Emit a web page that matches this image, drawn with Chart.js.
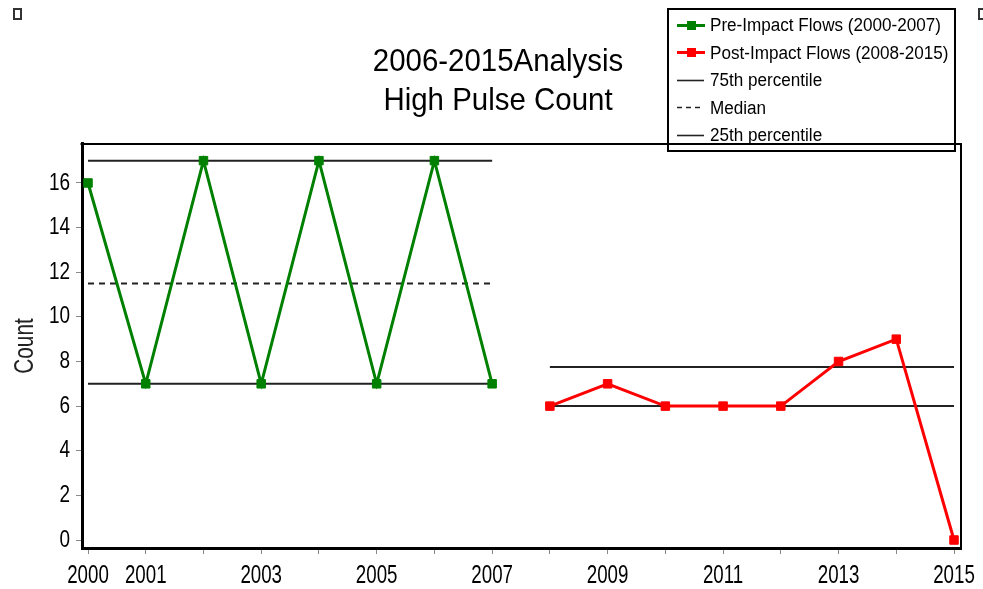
<!DOCTYPE html>
<html>
<head>
<meta charset="utf-8">
<script src="https://cdn.jsdelivr.net/npm/chart.js@4/dist/chart.umd.min.js"></script>
<style>
html,body{margin:0;padding:0;background:#fff;}
canvas{display:block;}
</style>
</head>
<body>
<canvas id="c" width="983" height="589" style="width:983px;height:589px"></canvas>
<script>
// ---- data ----
const titleLines = ['2006-2015Analysis', 'High Pulse Count'];
const yAxisTitle = 'Count';
const seriesLabels = ['Pre-Impact Flows (2000-2007)', 'Post-Impact Flows (2008-2015)'];
const percentileLabels = ['75th percentile', 'Median', '25th percentile'];
const preYears = [2000, 2001, 2002, 2003, 2004, 2005, 2006, 2007];
const preCounts = [16, 7, 17, 7, 17, 7, 17, 7];
const postYears = [2008, 2009, 2010, 2011, 2012, 2013, 2014, 2015];
const postCounts = [6, 7, 6, 6, 6, 8, 9, 0];
const prePercentiles = [17, 11.5, 7];      // 75th, median, 25th
const postPercentiles = [7.75, 6, 6];      // 75th, median, 25th
const xTickYears = [2000, 2001, 2002, 2003, 2004, 2005, 2006, 2007, 2008, 2009, 2010, 2011, 2012, 2013, 2014, 2015];
const xLabelYears = [2000, 2001, 2003, 2005, 2007, 2009, 2011, 2013, 2015];
const yTickValues = [0, 2, 4, 6, 8, 10, 12, 14, 16];

// ---- styling ----
const FONT = "'Liberation Sans', Arial, sans-serif";
const GREEN = '#008000';
const RED = '#ff0000';
const PCT_COLOR = '#222222';
const MEDIAN_DASH = [6, 5];
// horizontal condensing of text by font size (reference text is narrow)
const condense = {32: 0.92, 27: 0.77, 26: 0.72, 24: 0.79, 18: 0.95};

const canvas = document.getElementById('c');
const ctx = canvas.getContext('2d');
const origFill = CanvasRenderingContext2D.prototype.fillText;
ctx.fillText = function (t, x, y, mw) {
  const m = /(\d+(?:\.\d+)?)px/.exec(this.font);
  const s = m ? (condense[Math.round(+m[1])] || 1) : 1;
  if (s === 1) {
    return (mw === undefined) ? origFill.call(this, t, x, y) : origFill.call(this, t, x, y, mw);
  }
  this.save();
  this.translate(x, y);
  this.scale(s, 1);
  if (mw === undefined) origFill.call(this, t, 0, 0); else origFill.call(this, t, 0, 0, mw / s);
  this.restore();
};

function pts(xs, ys) { return xs.map((x, i) => ({x: x, y: ys[i]})); }
function flat(xs, v) { return [{x: xs[0], y: v}, {x: xs[xs.length - 1], y: v}]; }

const datasets = [];
datasets.push({
  label: seriesLabels[0], data: pts(preYears, preCounts),
  borderColor: GREEN, backgroundColor: GREEN, borderWidth: 3,
  pointStyle: 'rect', pointRadius: 6, pointBorderWidth: 1, pointHoverRadius: 6,
  order: 0, legendRank: 0, legendKind: 'series'
});
datasets.push({
  label: seriesLabels[1], data: pts(postYears, postCounts),
  borderColor: RED, backgroundColor: RED, borderWidth: 3,
  pointStyle: 'rect', pointRadius: 6, pointBorderWidth: 1, pointHoverRadius: 6,
  order: 0, legendRank: 1, legendKind: 'series'
});
[[preYears, prePercentiles, true], [postYears, postPercentiles, false]].forEach(([yrs, pc, inLegend]) => {
  pc.forEach((v, k) => {
    datasets.push({
      label: percentileLabels[k], data: flat(yrs, v),
      borderColor: PCT_COLOR, backgroundColor: PCT_COLOR, borderWidth: 2,
      borderDash: k === 1 ? MEDIAN_DASH : [], pointRadius: 0, pointHoverRadius: 0,
      order: 1, legendRank: inLegend ? 2 + k : -1, legendKind: k === 1 ? 'dash' : 'line'
    });
  });
});

const framePlugin = {
  id: 'frame',
  beforeDraw(chart) {
    const c = chart.ctx;
    c.save(); c.fillStyle = '#fff'; c.fillRect(0, 0, chart.width, chart.height); c.restore();
  },
  afterDraw(chart) {
    const c = chart.ctx;
    const a = chart.chartArea;
    c.save();
    // legend
    const items = chart.data.datasets.filter(d => d.legendRank >= 0).sort((p, q) => p.legendRank - q.legendRank);
    c.font = '18px ' + FONT;
    c.textAlign = 'left';
    c.textBaseline = 'alphabetic';
    items.forEach((d, i) => {
      const base = 31 + i * 27.6;
      const cy = Math.round(base - 6.4) + 0.5;
      c.save();
      c.strokeStyle = d.borderColor;
      c.fillStyle = d.borderColor;
      if (d.legendKind === 'series') {
        c.lineWidth = 3;
        c.beginPath(); c.moveTo(677, cy); c.lineTo(705, cy); c.stroke();
        c.fillRect(687, cy - 4.5, 9, 9);
      } else {
        c.lineWidth = 1.6;
        if (d.legendKind === 'dash') c.setLineDash([5, 4]);
        c.beginPath(); c.moveTo(677, cy); c.lineTo(704, cy); c.stroke();
      }
      c.restore();
      c.fillStyle = '#000';
      c.fillText(d.label, 710, base);
    });
    c.strokeStyle = '#000';
    c.lineWidth = 2;
    c.strokeRect(668, 9, 287, 142);
    // top and right frame of plot
    c.lineWidth = 2;
    c.beginPath();
    c.moveTo(a.left - 1.5, a.top);
    c.lineTo(a.right, a.top);
    c.lineTo(a.right, a.bottom + 1.5);
    c.stroke();
    // little corner marks
    c.strokeStyle = '#333';
    c.lineWidth = 2;
    c.strokeRect(14, 9, 7, 10);
    c.strokeRect(979, 9, 8, 10);
    c.restore();
  }
};

new Chart(ctx, {
  type: 'line',
  data: {datasets: datasets},
  plugins: [framePlugin],
  options: {
    responsive: false,
    animation: false,
    devicePixelRatio: 1,
    layout: {padding: {left: 35, right: 22, top: 0, bottom: 0}},
    elements: {line: {tension: 0}},
    plugins: {
      legend: {display: false},
      tooltip: {enabled: false},
      title: {
        display: true, text: titleLines, color: '#000',
        font: {family: FONT, size: 32, weight: 'normal', lineHeight: 1.24},
        padding: {top: 42, bottom: 22.6}
      }
    },
    scales: {
      x: {
        type: 'linear', min: 1999.896, max: 2015.121,
        afterBuildTicks: s => { s.ticks = xTickYears.map(v => ({value: v})); },
        afterFit: s => { s.height = 41; s.paddingLeft = 0; s.paddingRight = 0; },
        ticks: {
          autoSkip: false, maxRotation: 0, minRotation: 0, padding: 6, color: '#000',
          font: {family: FONT, size: 26},
          callback: v => xLabelYears.includes(v) ? String(v) : ''
        },
        grid: {drawOnChartArea: false, drawTicks: true, tickLength: 6, tickColor: '#8a8a8a', tickWidth: 1},
        border: {display: true, color: '#000', width: 3}
      },
      y: {
        type: 'linear', min: -0.3585, max: 17.748,
        afterBuildTicks: s => { s.ticks = yTickValues.map(v => ({value: v})); },
        afterFit: s => { s.width = 47; s.paddingTop = 0; s.paddingBottom = 0; },
        ticks: {padding: 6, color: '#000', font: {family: FONT, size: 24}},
        grid: {drawOnChartArea: false, drawTicks: true, tickLength: 6, tickColor: '#8a8a8a', tickWidth: 1},
        border: {display: true, color: '#000', width: 3},
        title: {
          display: true, text: yAxisTitle, color: '#222',
          font: {family: FONT, size: 27, weight: 'normal'},
          padding: {top: -26, bottom: 0}
        }
      }
    }
  }
});
</script>
</body>
</html>
